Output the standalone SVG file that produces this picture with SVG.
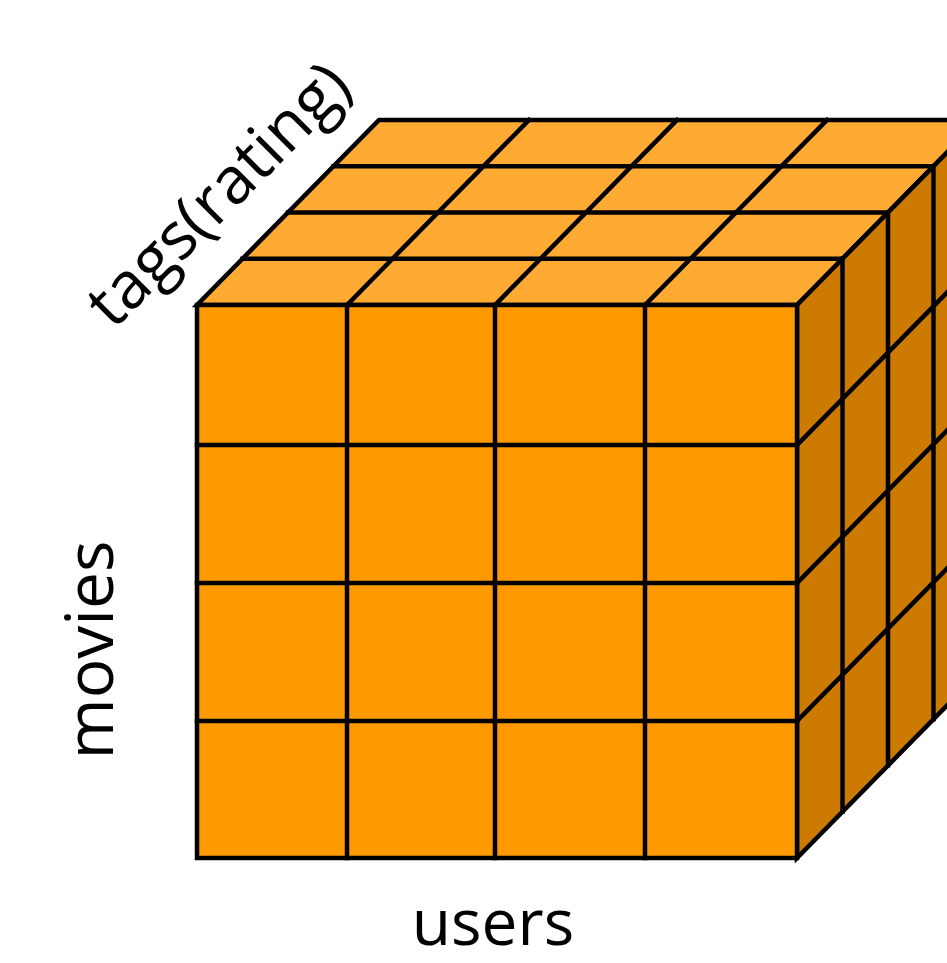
<svg xmlns="http://www.w3.org/2000/svg" width="947" height="963" viewBox="0 0 947 963">
<style>
.front{fill:#FF9900}
.top{fill:#FFAA33}
.side{fill:#CC7A00}
.ln{stroke:#000;stroke-width:4.5;fill:none;stroke-linejoin:miter;stroke-linecap:square}
.lbl{font-family:"Open Sans","Liberation Sans",sans-serif;font-size:64px;fill:#000}
</style>
<rect width="947" height="963" fill="#fff"/>
<g id="top-face">
<polygon class="top" points="197,305 797,305 979,120 379,120"/>
<g class="ln">
<polygon points="197,305 797,305 979,120 379,120"/>
<line x1="242.5" y1="258.75" x2="842.5" y2="258.75"/>
<line x1="288" y1="212.5" x2="888" y2="212.5"/>
<line x1="333.5" y1="166.25" x2="933.5" y2="166.25"/>
<line x1="347" y1="305" x2="529" y2="120"/>
<line x1="495" y1="305" x2="677" y2="120"/>
<line x1="645" y1="305" x2="827" y2="120"/>
</g>
</g>
<g id="side-face">
<polygon class="side" points="797,305 979,120 979,673 797,858"/>
<g class="ln">
<polygon points="797,305 979,120 979,673 797,858"/>
<line x1="842.5" y1="258.75" x2="842.5" y2="811.75"/>
<line x1="888" y1="212.5" x2="888" y2="765.5"/>
<line x1="933.5" y1="166.25" x2="933.5" y2="719.25"/>
<line x1="797" y1="445" x2="979" y2="260"/>
<line x1="797" y1="583" x2="979" y2="398"/>
<line x1="797" y1="721" x2="979" y2="536"/>
</g>
</g>
<g id="front-face">
<rect class="front" x="197" y="305" width="600" height="553"/>
<g class="ln">
<rect x="197" y="305" width="600" height="553"/>
<line x1="347" y1="305" x2="347" y2="858"/>
<line x1="495" y1="305" x2="495" y2="858"/>
<line x1="645" y1="305" x2="645" y2="858"/>
<line x1="197" y1="445" x2="797" y2="445"/>
<line x1="197" y1="583" x2="797" y2="583"/>
<line x1="197" y1="721" x2="797" y2="721"/>
</g>
</g>
<g id="labels">
<text id="label-users" class="lbl" x="493" y="945" text-anchor="middle">users</text>
<text id="label-movies" class="lbl" style="font-size:66px" text-anchor="middle" transform="translate(113,650) rotate(-90)">movies</text>
<text id="label-tags" class="lbl" style="font-size:65px" text-anchor="middle" transform="translate(234,210) rotate(-45)">tags(rating)</text>
</g>
</svg>
